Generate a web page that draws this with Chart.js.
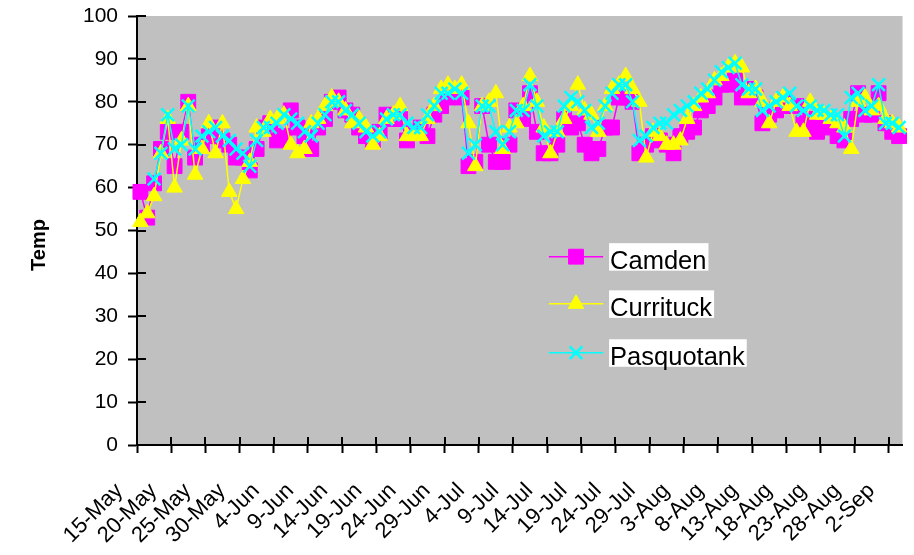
<!DOCTYPE html>
<html>
<head>
<meta charset="utf-8">
<script src="https://cdn.jsdelivr.net/npm/chart.js@4.4.1/dist/chart.umd.min.js"></script>
<style>
  html, body { margin: 0; padding: 0; background: #ffffff; }
  canvas { display: block; }
</style>
</head>
<body>
<canvas id="c" width="914" height="555"></canvas>
<script>
// Daily dates, 15 May to 3 Sep
const days = [
  "15-May","16-May","17-May","18-May","19-May","20-May","21-May","22-May","23-May","24-May",
  "25-May","26-May","27-May","28-May","29-May","30-May","31-May",
  "1-Jun","2-Jun","3-Jun","4-Jun","5-Jun","6-Jun","7-Jun","8-Jun","9-Jun","10-Jun",
  "11-Jun","12-Jun","13-Jun","14-Jun","15-Jun","16-Jun","17-Jun","18-Jun","19-Jun","20-Jun",
  "21-Jun","22-Jun","23-Jun","24-Jun","25-Jun","26-Jun","27-Jun","28-Jun","29-Jun","30-Jun",
  "1-Jul","2-Jul","3-Jul","4-Jul","5-Jul","6-Jul","7-Jul","8-Jul","9-Jul","10-Jul",
  "11-Jul","12-Jul","13-Jul","14-Jul","15-Jul","16-Jul","17-Jul","18-Jul","19-Jul","20-Jul",
  "21-Jul","22-Jul","23-Jul","24-Jul","25-Jul","26-Jul","27-Jul","28-Jul","29-Jul","30-Jul","31-Jul",
  "1-Aug","2-Aug","3-Aug","4-Aug","5-Aug","6-Aug","7-Aug","8-Aug","9-Aug","10-Aug",
  "11-Aug","12-Aug","13-Aug","14-Aug","15-Aug","16-Aug","17-Aug","18-Aug","19-Aug","20-Aug",
  "21-Aug","22-Aug","23-Aug","24-Aug","25-Aug","26-Aug","27-Aug","28-Aug","29-Aug","30-Aug","31-Aug",
  "1-Sep","2-Sep","3-Sep"
];

// Daily temperatures by county
const camden = [
  59,53,61,69,73,65,73,80,67,70,
  72,74,71,70,67,67,64,69,74,75,
  71,72,78,74,72,69,74,76,80,81,
  78,77,74,72,71,73,77,76,76,71,
  73,74,72,77,79,81,82,81,65,66,
  79,70,66,66,70,78,76,82,73,68,
  68,70,76,74,75,70,68,69,74,74,
  81,81,80,68,70,72,71,70,68,72,
  73,74,78,79,81,84,84,85,81,83,
  81,75,77,78,80,79,79,75,76,73,
  74,75,72,71,76,82,77,77,82,75,
  73,72
];
const currituck = [
  52,54,58,68,76,60,71,79,63,69,
  75,68,75,59,55,62,66,74,73,76,
  76,77,70,68,69,75,76,79,81,80,
  78,75,76,74,70,72,76,77,79,72,
  72,72,76,79,83,84,83,84,75,65,
  79,80,82,69,74,75,79,86,80,74,
  68,73,76,79,84,78,77,73,79,83,
  84,86,83,80,67,73,72,70,70,71,
  76,79,81,82,85,86,88,89,88,82,
  83,80,75,80,81,79,73,73,80,77,
  77,76,75,74,69,80,81,78,79,76,
  75,74
];
const pasquotank = [
  null,null,62,68,77,69,70,79,69,72,
  73,74,72,71,69,68,65,71,74,74,
  75,77,76,75,73,72,75,77,80,80,
  78,77,75,73,72,73,76,77,77,75,
  74,74,77,79,82,82,83,82,68,70,
  79,79,73,70,73,78,78,84,79,72,
  73,73,79,81,80,78,74,75,79,82,
  84,84,80,71,72,74,75,75,77,78,
  79,80,82,83,85,87,88,89,84,83,
  83,78,79,80,81,82,79,78,79,78,
  78,77,77,72,81,82,78,79,84,75,
  75,74
];

const yTicks = [0, 10, 20, 30, 40, 50, 60, 70, 80, 90, 100];
const labelEvery = 5;
const yTitle = "Temp";

const FONT = "'Liberation Sans', Arial, sans-serif";
const PLOT_BG = "#C0C0C0";

// Gray plot area plus the inner halves of the crossing tick marks
const plotFrame = {
  id: "plotFrame",
  beforeDraw(chart) {
    const { ctx, chartArea: a } = chart;
    ctx.save();
    ctx.fillStyle = PLOT_BG;
    ctx.fillRect(a.left, a.top, a.right - a.left, a.bottom - a.top);
    ctx.restore();
  },
  beforeDatasetsDraw(chart) {
    const { ctx, chartArea: a, scales } = chart;
    ctx.save();
    ctx.strokeStyle = "#000";
    ctx.lineWidth = 2;
    ctx.beginPath();
    yTicks.forEach(v => {
      const py = Math.round(scales.y.getPixelForValue(v));
      ctx.moveTo(a.left, py);
      ctx.lineTo(a.left + 9, py);
    });
    for (let i = 0; i < days.length; i += labelEvery) {
      const px = Math.round(scales.x.getPixelForValue(i - 0.5));
      ctx.moveTo(px, a.bottom);
      ctx.lineTo(px, a.bottom - 8);
    }
    ctx.stroke();
    ctx.restore();
  }
};

// Legend drawn inside the plot, with white boxes behind the names
const insideLegend = {
  id: "insideLegend",
  afterDraw(chart) {
    const { ctx, chartArea: a } = chart;
    const w = a.right - a.left, h = a.bottom - a.top;
    const x0 = a.left + 0.538 * w, x1 = a.left + 0.609 * w, tx = a.left + 0.618 * w;
    const rows = [0.561, 0.671, 0.785];
    ctx.save();
    ctx.font = "25.5px " + FONT;
    chart.data.datasets.forEach((ds, i) => {
      const y = a.top + rows[i] * h;
      ctx.strokeStyle = ds.borderColor;
      ctx.lineWidth = ds.borderWidth;
      ctx.beginPath();
      ctx.moveTo(x0, y);
      ctx.lineTo(x1, y);
      ctx.stroke();
      ctx.fillStyle = ds.backgroundColor;
      ctx.strokeStyle = ds.pointBorderColor;
      ctx.lineWidth = ds.pointBorderWidth;
      Chart.helpers.drawPoint(ctx, {
        pointStyle: ds.pointStyle, radius: ds.pointRadius,
        borderWidth: ds.pointBorderWidth, rotation: 0
      }, (x0 + x1) / 2, y);
      const tw = ctx.measureText(ds.label).width;
      ctx.fillStyle = "#fff";
      ctx.fillRect(tx - 1, y - 13.5, tw + 3, 27.5);
      ctx.fillStyle = "#000";
      ctx.textBaseline = "alphabetic";
      ctx.textAlign = "left";
      ctx.fillText(ds.label, tx, y + 12.5);
    });
    ctx.restore();
  }
};

// Vertical axis title
const axisTitle = {
  id: "axisTitle",
  afterDraw(chart) {
    const { ctx } = chart;
    ctx.save();
    ctx.translate(39, 245);
    ctx.rotate(-Math.PI / 2);
    ctx.font = "bold 20px " + FONT;
    ctx.fillStyle = "#000";
    ctx.textAlign = "center";
    ctx.textBaseline = "middle";
    ctx.fillText(yTitle, 0, 0);
    ctx.restore();
  }
};

function series(label, data, color, style, radius, order) {
  return {
    label, data, order,
    borderColor: color, backgroundColor: color,
    pointBackgroundColor: color, pointBorderColor: color,
    borderWidth: 1.5, pointStyle: style, pointRadius: radius,
    pointBorderWidth: style === "crossRot" ? 2.5 : 1,
    tension: 0, spanGaps: true, fill: false
  };
}

new Chart(document.getElementById("c"), {
  type: "line",
  data: {
    labels: days,
    datasets: [
      series("Camden", camden, "#FF00FF", "rect", 10.5, 2),
      series("Currituck", currituck, "#FFFF00", "triangle", 9, 1),
      series("Pasquotank", pasquotank, "#00FFFF", "crossRot", 9, 0)
    ]
  },
  options: {
    responsive: false,
    animation: false,
    devicePixelRatio: 1,
    layout: { padding: { top: 16, right: 2, left: 0, bottom: 0 } },
    plugins: { legend: { display: false }, tooltip: { enabled: false } },
    scales: {
      x: {
        offset: true,
        grid: {
          offset: true, drawOnChartArea: false, tickLength: 8, tickWidth: 2,
          color: ctx => (ctx.index % labelEvery === 0 ? "#000" : "rgba(0,0,0,0)")
        },
        border: { color: "#000", width: 2 },
        ticks: {
          autoSkip: false, minRotation: 45, maxRotation: 45,
          padding: 25, labelOffset: -21, color: "#000",
          font: { family: FONT, size: 22 },
          callback: (v, i) => (i % labelEvery === 0 ? days[i] : "")
        },
        afterFit: s => { s.height = 110; s.paddingLeft = 0; s.paddingRight = 0; }
      },
      y: {
        min: 0, max: 100,
        afterBuildTicks: s => { s.ticks = yTicks.map(v => ({ value: v })); },
        grid: { drawOnChartArea: false, tickLength: 9, tickWidth: 2, color: "#000" },
        border: { color: "#000", width: 2 },
        ticks: { padding: 10, color: "#000", font: { family: FONT, size: 21 } },
        afterFit: s => { s.width = 137; s.paddingTop = 0; s.paddingBottom = 0; }
      }
    }
  },
  plugins: [plotFrame, insideLegend, axisTitle]
});
</script>
</body>
</html>
